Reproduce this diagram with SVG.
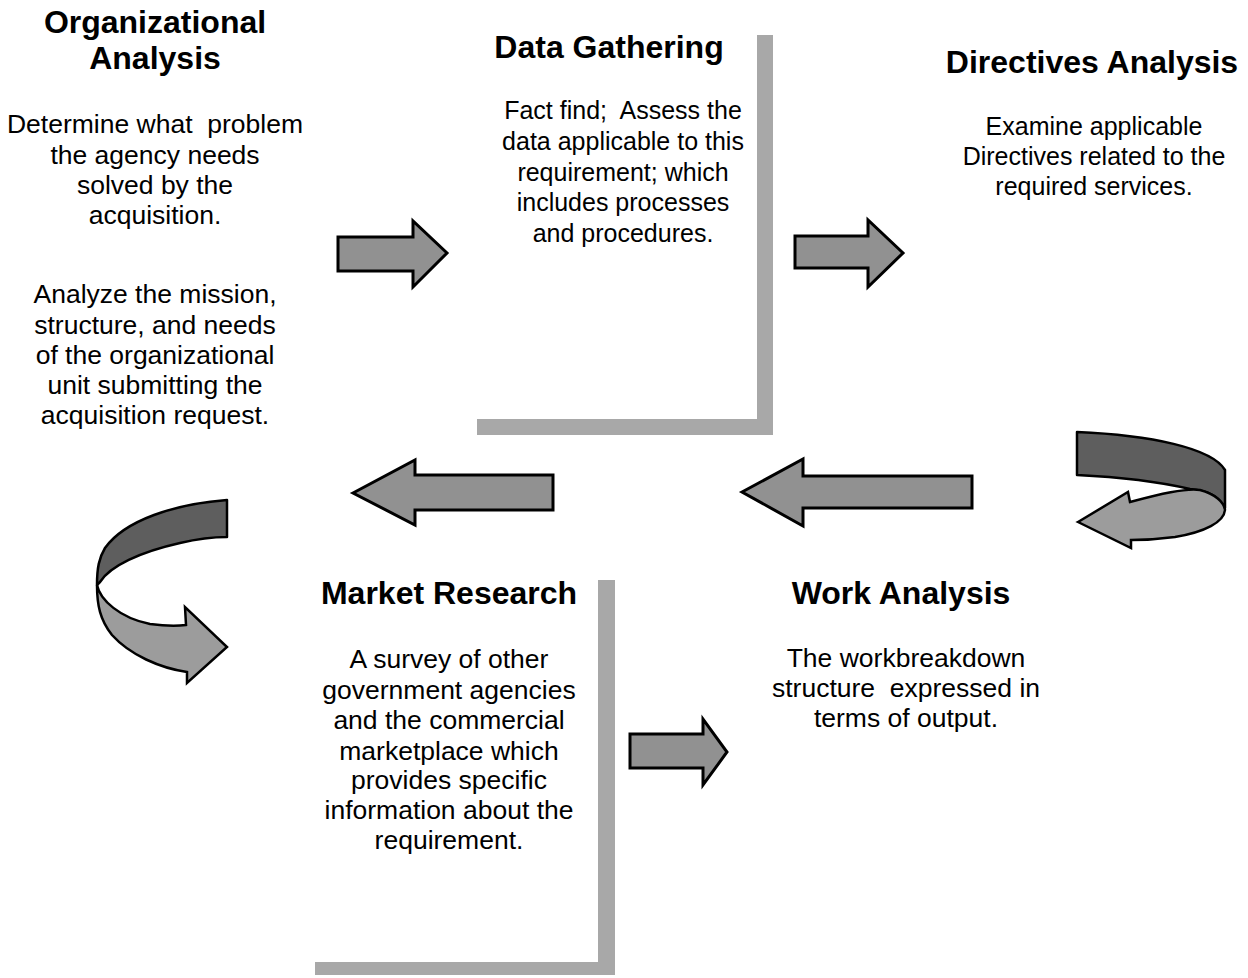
<svg xmlns="http://www.w3.org/2000/svg" width="1248" height="978" viewBox="0 0 1248 978">
  <style>
    .title { font-family: "Liberation Sans", Arial, sans-serif; font-weight: bold; font-size: 32px; fill: #000; text-anchor: middle; }
    .body { font-family: "Liberation Sans", Arial, sans-serif; font-size: 26.5px; fill: #000; text-anchor: middle; }
    .small { font-size: 25px; }
    .bar { fill: #a8a8a8; }
    .arrow { fill: #919191; stroke: #000; stroke-width: 3; stroke-linejoin: miter; }
    .ribbon-back { fill: #5e5e5e; stroke: #000; stroke-width: 2.5; stroke-linejoin: round; }
    .ribbon-front { fill: #9c9c9c; stroke: #000; stroke-width: 2.5; stroke-linejoin: miter; }
  </style>
  <rect width="1248" height="978" fill="#fff"/>

  <!-- Organizational Analysis -->
  <g id="organizational-analysis">
    <text class="title" x="155" y="33">Organizational</text>
    <text class="title" x="155" y="69">Analysis</text>
    <text class="body" x="155" y="133" xml:space="preserve">Determine what  problem</text>
    <text class="body" x="155" y="164">the agency needs</text>
    <text class="body" x="155" y="194">solved by the</text>
    <text class="body" x="155" y="224">acquisition.</text>
    <text class="body" x="155" y="303">Analyze the mission,</text>
    <text class="body" x="155" y="334">structure, and needs</text>
    <text class="body" x="155" y="364">of the organizational</text>
    <text class="body" x="155" y="394">unit submitting the</text>
    <text class="body" x="155" y="424">acquisition request.</text>
  </g>

  <!-- Data Gathering with its L-shaped frame -->
  <g id="data-gathering">
    <path class="bar" d="M757,35 H773 V435 H477 V419 H757 Z"/>
    <text class="title" x="609" y="58">Data Gathering</text>
    <text class="body small" x="623" y="119" xml:space="preserve">Fact find;  Assess the</text>
    <text class="body small" x="623" y="150">data applicable to this</text>
    <text class="body small" x="623" y="181">requirement; which</text>
    <text class="body small" x="623" y="211">includes processes</text>
    <text class="body small" x="623" y="242">and procedures.</text>
  </g>

  <!-- Directives Analysis -->
  <g id="directives-analysis">
    <text class="title" x="1092" y="73">Directives Analysis</text>
    <text class="body small" x="1094" y="135">Examine applicable</text>
    <text class="body small" x="1094" y="165">Directives related to the</text>
    <text class="body small" x="1094" y="195">required services.</text>
  </g>

  <!-- Market Research with its L-shaped frame -->
  <g id="market-research">
    <path class="bar" d="M598,580 H615 V975 H315 V962 H598 Z"/>
    <text class="title" x="449" y="604">Market Research</text>
    <text class="body" x="449" y="668">A survey of other</text>
    <text class="body" x="449" y="699">government agencies</text>
    <text class="body" x="449" y="729">and the commercial</text>
    <text class="body" x="449" y="760">marketplace which</text>
    <text class="body" x="449" y="789">provides specific</text>
    <text class="body" x="449" y="819">information about the</text>
    <text class="body" x="449" y="849">requirement.</text>
  </g>

  <!-- Work Analysis -->
  <g id="work-analysis">
    <text class="title" x="901" y="604">Work Analysis</text>
    <text class="body" x="906" y="667">The workbreakdown</text>
    <text class="body" x="906" y="697" xml:space="preserve">structure  expressed in</text>
    <text class="body" x="906" y="727">terms of output.</text>
  </g>

  <!-- Flow arrows between the steps -->
  <g id="connectors">
    <!-- Organizational Analysis to Data Gathering -->
    <path class="arrow" d="M338,237 H413 V221 L447,253 L413,287 V271 H338 Z"/>
    <!-- Data Gathering to Directives Analysis -->
    <path class="arrow" d="M795,236 H868 V220 L903,253 L868,287 V268 H795 Z"/>
    <!-- Directives Analysis turning back down -->
    <path class="ribbon-back" d="M1077,432 C1150,435 1212,448 1225,470 L1225,508 C1218,495 1205,490 1190,489 C1160,482 1120,477 1077,475 Z"/>
    <path class="ribbon-front" d="M1078,522 L1128,492 L1130,502 C1160,494 1185,488 1200,490 C1215,494 1224,502 1225,510 C1224,522 1205,532 1175,537 C1160,539 1145,540 1131,540 L1131,548 Z"/>
    <!-- toward Work Analysis side, pointing left -->
    <path class="arrow" d="M742,492 L803,459 V476 H972 V508 H803 V526 Z"/>
    <!-- pointing left toward Organizational Analysis -->
    <path class="arrow" d="M353,493 L415,460 V475 H553 V510 H415 V525 Z"/>
    <!-- Organizational Analysis turning down to Market Research -->
    <path class="ribbon-back" d="M227,500 C175,504 125,520 105,548 C99,558 97,568 97,585 L100,582 C110,566 140,552 180,543 C197,539 212,537 227,537 Z"/>
    <path class="ribbon-front" d="M97,585 C100,600 120,618 150,624 C165,626 178,626 186,625 L185,607 L227,647 L187,683 L187,672 C160,668 130,655 112,635 C100,620 97,605 97,585 Z"/>
    <!-- Market Research to Work Analysis -->
    <path class="arrow" d="M630,734 H703 V719 L727,752 L703,785 V768 H630 Z"/>
  </g>
</svg>
